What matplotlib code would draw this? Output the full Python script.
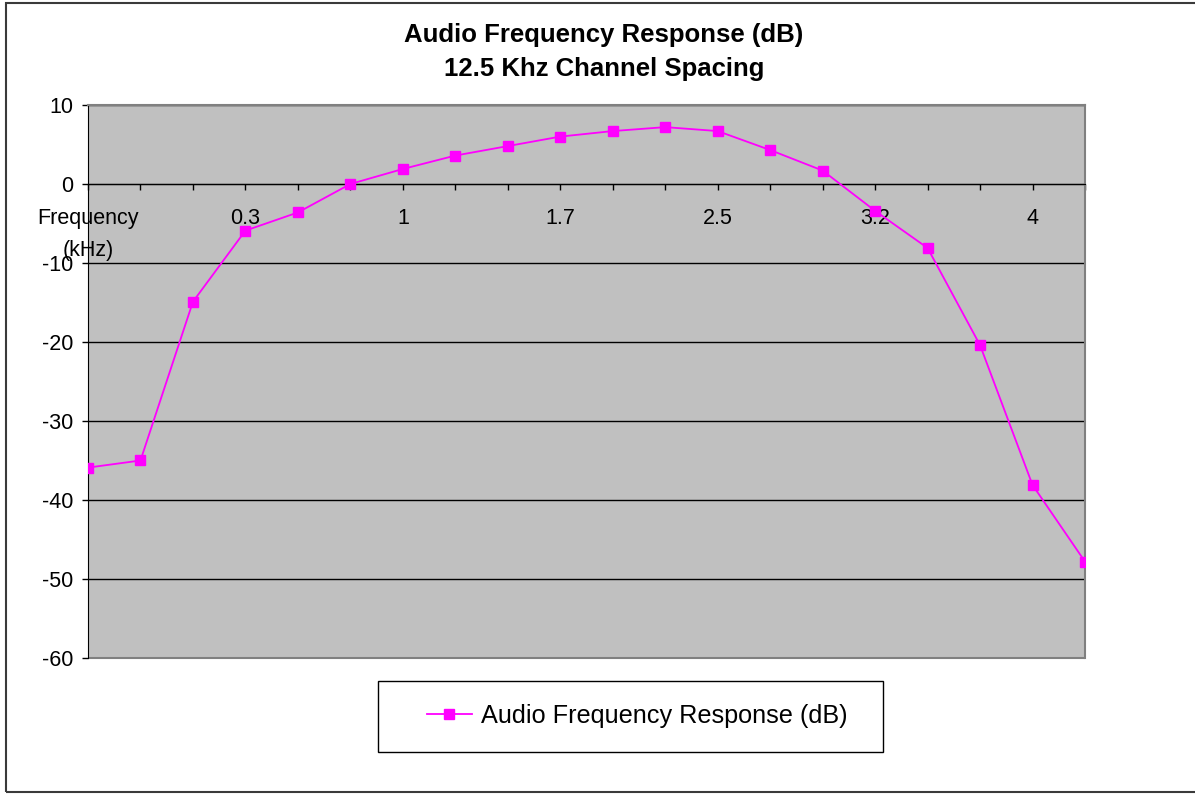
import matplotlib.pyplot as plt
from matplotlib.patches import Rectangle

plt.rcParams['font.family'] = ['Liberation Sans', 'DejaVu Sans']
plt.rcParams['axes.unicode_minus'] = False

# 20 measured points, only every third category is labelled on the chart
tick_labels = ['Frequency', '', '', '0.3', '', '', '1', '', '', '1.7',
               '', '', '2.5', '', '', '3.2', '', '', '4', '']
unit_label = '(kHz)'
response_db = [-35.9, -35.0, -14.9, -5.9, -3.6, 0.0, 1.9, 3.6, 4.8, 6.0,
               6.7, 7.2, 6.7, 4.3, 1.7, -3.4, -8.1, -20.4, -38.1, -47.8]
series_name = 'Audio Frequency Response (dB)'
title_lines = ['Audio Frequency Response (dB)', '12.5 Khz Channel Spacing']

W, H = 1195, 794
fig = plt.figure(figsize=(W / 100, H / 100), dpi=100)
ax = fig.add_axes([88 / W, 1 - 658 / H, (1085 - 88) / W, (658 - 105) / H])
ax.set_facecolor('#c0c0c0')

x = list(range(len(response_db)))
ax.plot(x, response_db, color='#ff00ff', lw=1.3, marker='s', ms=7.5,
        label=series_name, zorder=3)

ax.set_xlim(0, len(response_db) - 1)
ax.set_ylim(-60, 10)
ax.set_yticks(range(-60, 11, 10))
ax.grid(axis='y', color='black', lw=1)
ax.set_axisbelow(True)

ax.set_xticks(x, tick_labels)
# second line of the first category label ("Frequency (kHz)")
ax.xaxis.remove_overlapping_locs = False
ax.set_xticks([x[0]], [unit_label], minor=True)
ax.tick_params(axis='x', direction='out', length=4.5, width=1, pad=12.5, labelsize=15.5)
ax.tick_params(axis='x', which='minor', length=0, pad=40, labelsize=15.5)
ax.tick_params(axis='y', direction='out', length=4.5, width=1, pad=6, labelsize=15.5)

ax.spines['bottom'].set_position(('data', 0))
ax.spines['bottom'].set_color('black')
ax.spines['left'].set_color('black')
for s in ('top', 'right'):
    ax.spines[s].set_color('#808080')
    ax.spines[s].set_linewidth(1.5)
ax.add_patch(Rectangle((0, 0), 1, 0.0, transform=ax.transAxes, fill=False,
                       edgecolor='#808080', lw=1.5, clip_on=False))

fig.text(604 / W, 1 - 35 / H, title_lines[0], ha='center', va='center',
         fontsize=18.5, fontweight='bold')
fig.text(604 / W, 1 - 69 / H, title_lines[1], ha='center', va='center',
         fontsize=18.5, fontweight='bold')

# legend frame and contents
fig.patches.append(Rectangle((378 / W, 1 - 752 / H), (883 - 378) / W, (752 - 681) / H,
                             transform=fig.transFigure, fill=False,
                             edgecolor='black', lw=1))
fig.legend(loc='center', bbox_to_anchor=(637 / W, 1 - 716 / H), frameon=False,
           fontsize=18.2, handlelength=1.8, handletextpad=0.35)

# outer chart border (open on the right edge, as in the original)
fig.patches.append(Rectangle((6 / W, 2 / H), (1210 - 6) / W, (791 - 2) / H,
                             transform=fig.transFigure, fill=False,
                             edgecolor='#3a3a3a', lw=1.5, clip_on=False))

fig.savefig('out.png', dpi=100)
